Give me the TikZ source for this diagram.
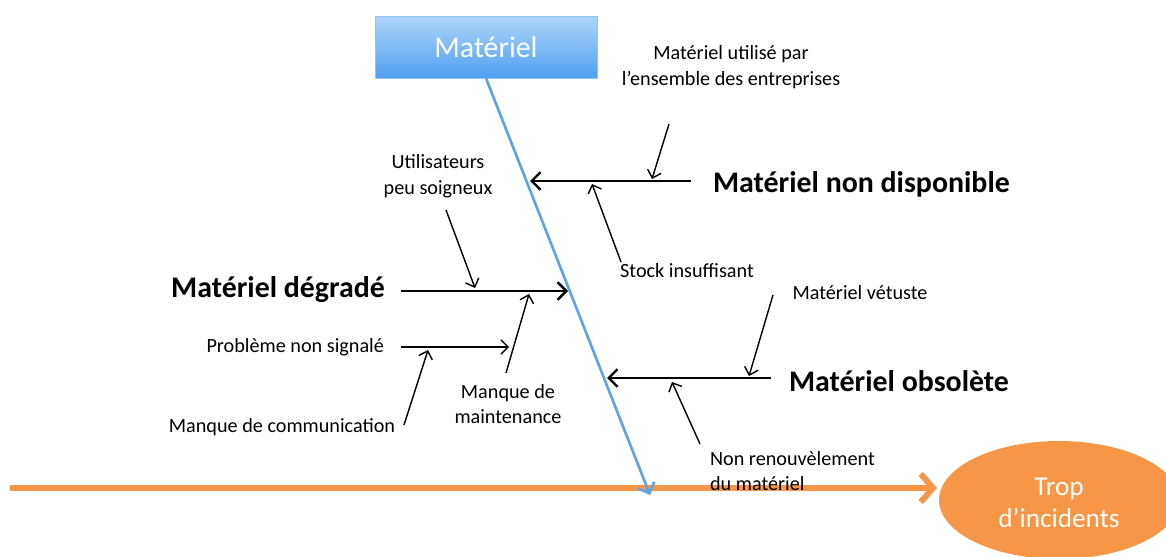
\documentclass[tikz,border=0pt]{standalone}
\usepackage{fontspec}
\setmainfont{Carlito}
\usepackage{tikz}
\usetikzlibrary{arrows.meta,shapes.geometric}
\definecolor{topblue}{HTML}{AED6FB}
\definecolor{botblue}{HTML}{4F9FEE}
\definecolor{lineblue}{HTML}{5EA3E3}
\definecolor{orangefill}{HTML}{F79646}
\tikzstyle{cause} = [font={\fontsize{11.5}{14.5}\selectfont}, align=center, inner sep=1pt]
\tikzstyle{effect} = [font={\fontsize{17}{20}\selectfont\bfseries}, inner sep=1pt]
\tikzstyle{bone} = [draw=black, line width=1.4pt, -{Straight Barb[length=5pt,width=10pt]}]
\tikzstyle{twig} = [draw=black, line width=0.8pt, -{Straight Barb[length=4pt,width=8pt]}]
\tikzstyle{category} = [draw=topblue!70!botblue, top color=topblue, bottom color=botblue, minimum width=4.44cm, minimum height=1.24cm, text=white, font={\fontsize{17}{20}\selectfont}]
\tikzstyle{problem} = [ellipse, fill=orangefill, minimum width=4.8cm, minimum height=2.36cm, inner sep=0pt, text=white, align=center, font={\fontsize{15.5}{18.5}\selectfont}]

\begin{document}
\begin{tikzpicture}[x=0.02cm,y=-0.02cm]
  \useasboundingbox (0,0) rectangle (1166,557);
  % head and spine
  \node[problem](incidents) at (1059,500){\strut Trop\\d'incidents};
  \coordinate (spinestart) at (10,488);
  \coordinate (spineend) at (937,488);
  \draw[draw=orangefill, line width=3.4pt, -{Straight Barb[length=7pt,width=16pt]}](spinestart)--(spineend);
  \node[category](materiel) at (486,47){Matériel};
  \coordinate (bonetip) at (650,495);
  \draw[draw=lineblue, line width=1.5pt, -{Straight Barb[length=5pt,width=10pt]}](materiel.south)--(bonetip);
  % main causes
  \node[effect, anchor=west](dispo) at (711,184){Matériel non disponible};
  \node[effect, anchor=east](degrade) at (387,290){Matériel dégradé};
  \node[effect, anchor=west](obsolete) at (787,381){Matériel obsolète};
  \coordinate (d1) at (691,181);
  \coordinate (d2) at (530,181);
  \coordinate (g1) at (401,291);
  \coordinate (g2) at (568,291);
  \coordinate (o1) at (771,378);
  \coordinate (o2) at (607,378);
  \draw[bone](d1)--(d2);
  \draw[bone](g1)--(g2);
  \draw[bone](o1)--(o2);
  % secondary causes
  \node[cause](utilise) at (731,67){Matériel utilisé par\\l'ensemble des entreprises};
  \node[cause](stock) at (687,271){Stock insuffisant};
  \node[cause](soigneux) at (438,176){Utilisateurs\\peu soigneux};
  \node[cause](maintenance) at (508,404){Manque de\\maintenance};
  \node[cause, anchor=east](signale) at (386,347){Problème non signalé};
  \node[cause](communication) at (282,427){Manque de communication};
  \node[cause](vetuste) at (860,293){Matériel vétuste};
  \node[cause, anchor=west, align=left](renouv) at (708,471){Non renouvèlement\\du matériel};
  \coordinate (u1) at (669,124);
  \coordinate (u2) at (652,179);
  \coordinate (s1) at (621,262);
  \coordinate (s2) at (592,184);
  \coordinate (p1) at (446,210);
  \coordinate (p2) at (475,288);
  \coordinate (m1) at (506,373);
  \coordinate (m2) at (529,294);
  \coordinate (n1) at (401,347);
  \coordinate (n2) at (509,347);
  \coordinate (c1) at (404,425);
  \coordinate (c2) at (428,350);
  \coordinate (v1) at (773,295);
  \coordinate (v2) at (749,376);
  \coordinate (r1) at (700,444);
  \coordinate (r2) at (672,382);
  \draw[twig](u1)--(u2);
  \draw[twig](s1)--(s2);
  \draw[twig](p1)--(p2);
  \draw[twig](m1)--(m2);
  \draw[twig](n1)--(n2);
  \draw[twig](c1)--(c2);
  \draw[twig](v1)--(v2);
  \draw[twig](r1)--(r2);
\end{tikzpicture}
\end{document}
